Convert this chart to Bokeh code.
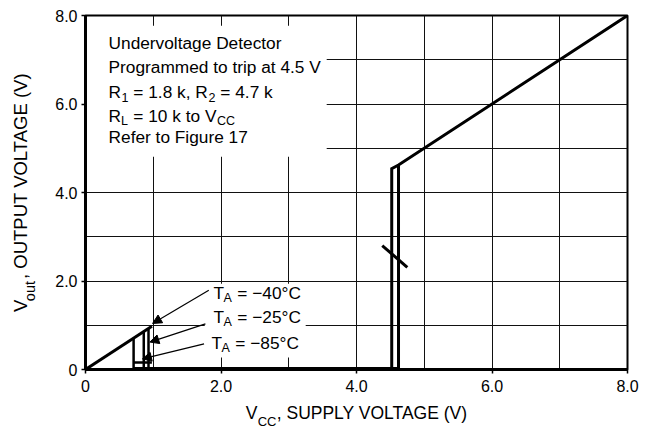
import math
from bokeh.plotting import figure
from bokeh.models import (Range1d, FixedTicker, Label, Arrow, NormalHead,
                          ColumnDataSource, LinearAxis)
from bokeh.embed import file_html
from bokeh.resources import INLINE

# ---------------- data ----------------
# Low-voltage region: Vout follows Vcc until the output transistor turns on
ramp_vcc = [0.0, 0.98]
ramp_vout = [0.0, 0.98]
turn_on_vcc = [0.71, 0.86, 0.93]      # Vcc where output pulls low (per temperature)
low_level = 0.02                      # Vout when output is low
low_level_cold = 0.16
# Trip region (hysteresis)
trip_up_vcc = 4.52
trip_up_top = 4.54
trip_dn_vcc = 4.62
high_vcc = [4.62, 8.0]
high_vout = [4.62, 8.0]
# direction mark across the hysteresis loop
mark_vcc = [4.38, 4.75]
mark_vout = [2.80, 2.31]

temps = ["\u221240\u00b0C", "\u221225\u00b0C", "\u221285\u00b0C"]
temp_label_vcc = [1.89, 1.89, 1.86]
temp_label_vout = [1.73, 1.19, 0.59]
arrow_tail_vcc = [1.82, 1.77, 1.75]
arrow_tail_vout = [1.79, 1.03, 0.58]
arrow_tip_vcc = [0.99, 0.95, 0.84]
arrow_tip_vout = [1.04, 0.62, 0.24]

x_tick_vals = [0, 2, 4, 6, 8]
x_tick_labels = ["0", "2.0", "4.0", "6.0", "8.0"]
y_tick_vals = [0, 2, 4, 6, 8]
y_tick_labels = ["0", "2.0", "4.0", "6.0", "8.0"]
grid_vals = [1, 2, 3, 4, 5, 6, 7]

FONT = "Liberation Sans, Arial, Helvetica, sans-serif"
NB = "\u00a0"

p = figure(frame_width=542, frame_height=354,
           x_range=Range1d(0, 8), y_range=Range1d(0, 8),
           output_backend="svg", toolbar_location=None,
           min_border_left=85, min_border_right=31,
           min_border_top=15, min_border_bottom=63,
           background_fill_color="white", border_fill_color="white")
p.outline_line_color = "black"
p.outline_line_width = 2

for ax, vals, labs in ((p.xaxis[0], x_tick_vals, x_tick_labels),
                       (p.yaxis[0], y_tick_vals, y_tick_labels)):
    ax.ticker = FixedTicker(ticks=vals)
    ax.major_label_overrides = {v: l for v, l in zip(vals, labs)}
    ax.axis_line_width = 3
    ax.axis_line_color = "black"
    ax.major_tick_out = 4
    ax.major_tick_in = 0
    ax.major_tick_line_width = 1.5
    ax.minor_tick_line_color = None
    ax.major_label_text_font = FONT
    ax.major_label_text_font_size = "16px"
    ax.major_label_text_color = "black"
    ax.axis_label_text_font = FONT
    ax.axis_label_text_font_style = "normal"
    ax.axis_label_text_color = "black"
p.xaxis.major_label_standoff = 6
p.yaxis.major_label_standoff = 4

# axis titles: main text on the axes, subscripts on extra label-only axes
p.xaxis.axis_label = "V" + NB * 4 + ", SUPPLY VOLTAGE (V)"
p.xaxis.axis_label_text_font_size = "17.5px"
p.xaxis.axis_label_standoff = 8
p.yaxis.axis_label = "V" + NB * 4 + ", OUTPUT VOLTAGE (V)"
p.yaxis.axis_label_text_font_size = "18.5px"
p.yaxis.axis_label_standoff = 21

x_sub_pos = [2.68]
x_sub_text = ["CC"]
y_sub_pos = [2.0]
y_sub_text = ["out"]


def sub_axis(pos, txt, size, standoff, orient):
    a = LinearAxis(ticker=FixedTicker(ticks=pos),
                   major_label_overrides={v: t for v, t in zip(pos, txt)},
                   axis_line_color=None, major_tick_line_color=None,
                   minor_tick_line_color=None, major_tick_out=0,
                   major_tick_in=0, major_label_standoff=standoff,
                   major_label_text_font=FONT,
                   major_label_text_font_size=size,
                   major_label_text_color="black",
                   major_label_orientation=orient)
    return a


p.add_layout(sub_axis(x_sub_pos, x_sub_text, "13px", -12, "horizontal"), "below")
p.add_layout(sub_axis(y_sub_pos, y_sub_text, "14.5px", -22, math.pi / 2), "left")

p.xgrid.ticker = FixedTicker(ticks=grid_vals)
p.ygrid.ticker = FixedTicker(ticks=grid_vals)
for g in (p.xgrid[0], p.ygrid[0]):
    g.grid_line_color = "#111111"
    g.grid_line_width = 1

# white backgrounds behind annotation texts
p.quad(left=[0.0], right=[3.56], bottom=[4.81], top=[7.77],
       fill_color="white", line_color=None)
p.quad(left=[1.76], right=[3.25], bottom=[0.27], top=[1.94],
       fill_color="white", line_color=None)

# ---------------- curves ----------------
LW = 3
p.line(ramp_vcc, ramp_vout, line_color="black", line_width=LW)
p.multi_line(xs=[[v, v] for v in turn_on_vcc],
             ys=[[v, low_level] for v in turn_on_vcc],
             line_color="black", line_width=2.5)
p.line([turn_on_vcc[0], ramp_vcc[1]], [low_level_cold, low_level_cold],
       line_color="black", line_width=2.5)
p.line([turn_on_vcc[0], trip_dn_vcc], [low_level, low_level],
       line_color="black", line_width=LW)
p.line([trip_up_vcc, trip_up_vcc, high_vcc[0], high_vcc[1]],
       [low_level, trip_up_top, high_vout[0], high_vout[1]],
       line_color="black", line_width=LW, line_join="miter")
p.line([trip_dn_vcc, trip_dn_vcc], [high_vout[0], low_level],
       line_color="black", line_width=LW)
p.line(mark_vcc, mark_vout, line_color="black", line_width=LW)

# arrows
asrc = ColumnDataSource(dict(x0=arrow_tail_vcc, y0=arrow_tail_vout,
                             x1=arrow_tip_vcc, y1=arrow_tip_vout))
p.add_layout(Arrow(end=NormalHead(size=9, fill_color="black", line_color="black"),
                   x_start="x0", y_start="y0", x_end="x1", y_end="y1",
                   source=asrc, line_color="black", line_width=1.2))


def rich(parts, x, y, size, sub_size, sub_shift=5):
    for text, off, sub in parts:
        p.add_layout(Label(x=x, y=y, x_offset=off,
                           y_offset=(-sub_shift if sub else 0),
                           text=text.replace(" ", NB), text_font=FONT,
                           text_font_size=sub_size if sub else size,
                           text_baseline="middle", text_align="left",
                           text_color="black"))


TS, SS = "17.3px", "12.5px"
rich([("Undervoltage Detector", 0, False)], 0.34, 7.37, TS, SS)
rich([("Programmed to trip at 4.5 V", 0, False)], 0.34, 6.83, TS, SS)
rich([("R", 0, False), ("1", 13, True), (" = 1.8 k, R", 20, False),
      ("2", 100, True), (" = 4.7 k", 107, False)], 0.34, 6.27, TS, SS)
rich([("R", 0, False), ("L", 12.5, True), (" = 10 k to V", 20, False),
      ("CC", 108.5, True)], 0.34, 5.74, TS, SS)
rich([("Refer to Figure 17", 0, False)], 0.34, 5.25, TS, SS)

for t, lx, ly in zip(temps, temp_label_vcc, temp_label_vout):
    rich([("T", 0, False), ("A", 10, True), (" = " + t, 19, False)],
         lx, ly, TS, SS)

open("out.html", "w").write(file_html(p, INLINE))
